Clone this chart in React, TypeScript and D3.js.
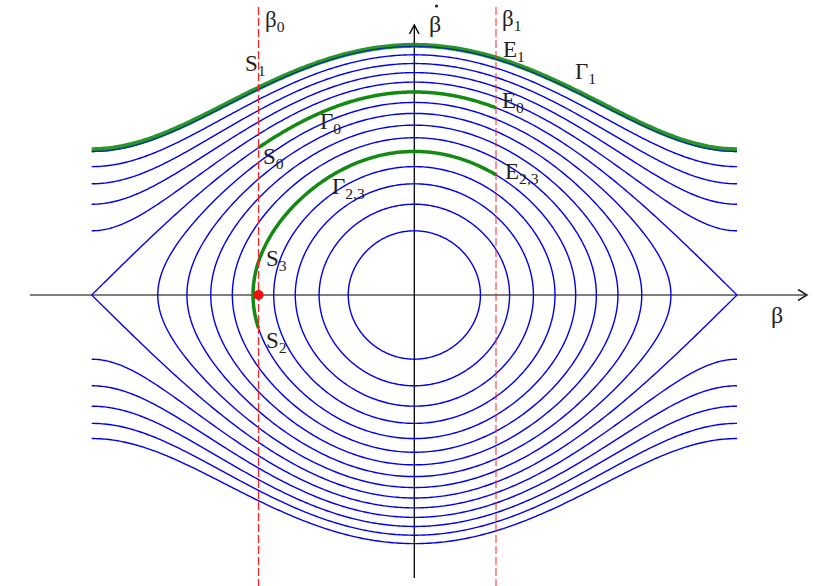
import React from "react";
import * as d3 from "d3";

// Energy levels H = βdot²/2 − cos β of the drawn contours
const levels = [-0.8, -0.6, -0.4, -0.2, 0, 0.2, 0.4, 0.6, 0.8, 1.0, 1.2, 1.4, 1.6, 1.8, 2.0];
// Dashed section lines
const beta0 = -1.517;
const beta1 = 0.795;
// Highlighted trajectories
const gamma1Level = 2.0;
const gamma0Level = 1.0;
const gamma23Level = 0.0;
// Red point (on β axis at β0)
const redPoint = [beta0, 0];

const W = 830, H = 586;
const PI = Math.PI;

const x = d3.scaleLinear().domain([-PI, PI]).range([91.7, 737]);
const y = d3.scaleLinear().domain([-2, 2]).range([498, 92]);

const vel = (E: number, b: number) => Math.sqrt(Math.max(0, 2 * (E + Math.cos(b))));
const line = d3.line<[number, number]>().x(d => x(d[0])).y(d => y(d[1])).curve(d3.curveLinear);

function closedOrbit(E: number): [number, number][] {
  const b0 = Math.acos(-E);
  const ts = d3.range(0, 201).map(i => (i / 200) * PI);
  const up: [number, number][] = ts.map(t => { const b = -b0 * Math.cos(t); return [b, vel(E, b)]; });
  const dn: [number, number][] = ts.map(t => { const b = b0 * Math.cos(t); return [b, -vel(E, b)]; });
  return [...up, ...dn];
}
function rotation(E: number, sign: number, a = -PI, b = PI): [number, number][] {
  return d3.range(0, 301).map(i => { const bb = a + (b - a) * i / 300; return [bb, sign * vel(E, bb)]; });
}
function gamma23(): [number, number][] {
  const bt = Math.acos(-gamma23Level);
  const tA = Math.acos(-beta1 / bt);
  const tB = Math.acos(-beta0 / bt);
  const up: [number, number][] = d3.range(0, 151).map(i => {
    const t = tA * (1 - i / 150); const b = -bt * Math.cos(t); return [b, vel(gamma23Level, b)];
  });
  const dn: [number, number][] = d3.range(1, 51).map(i => {
    const t = tB * i / 50; const b = -bt * Math.cos(t); return [b, -vel(gamma23Level, b)];
  });
  return [...up, ...dn];
}

const serif = "'Liberation Serif', 'Times New Roman', serif";

function Lbl({ x: lx, y: ly, main, sub, size = 23 }: { x: number; y: number; main: string; sub?: string; size?: number }) {
  return (
    <text x={lx} y={ly} fontFamily={serif} fontSize={size} fill="#222">
      {main}
      {sub !== undefined && <tspan fontSize={size * 0.68} dy={size * 0.2}>{sub}</tspan>}
    </text>
  );
}

export default function App() {
  const blue = "#0000ee";
  const green = "#138a13";
  return (
    <svg width={W} height={H} style={{ position: "absolute", left: 0, top: 0, background: "#fff" }}>
      {/* axes */}
      <line x1={30} y1={295} x2={806} y2={295} stroke="#555" strokeWidth={1.5} />
      <polyline points="798,289.5 807,295 798,300.5" fill="none" stroke="#222" strokeWidth={1.5} />
      <line x1={414.3} y1={578} x2={414.3} y2={26} stroke="#000" strokeWidth={1.3} />
      <polyline points="409.5,34 414.3,25 419,34" fill="none" stroke="#000" strokeWidth={1.4} />

      {/* contours */}
      <g fill="none" stroke={blue} strokeWidth={1.4}>
        {levels.map(E => E < 1
          ? <path key={E} d={line(closedOrbit(E)) + "Z"} />
          : <g key={E}>
              <path d={line(rotation(E, 1)) || ""} />
              <path d={line(rotation(E, -1)) || ""} />
            </g>)}
      </g>

      {/* highlighted trajectories */}
      <g fill="none" stroke={green} strokeLinecap="butt">
        <path d={line(rotation(gamma1Level + 0.025, 1)) || ""} strokeWidth={5} opacity={0.9} />
        <path d={line(rotation(gamma0Level, 1, beta0, beta1)) || ""} strokeWidth={3.5} />
        <path d={line(gamma23()) || ""} strokeWidth={3.5} />
      </g>
      <path d={line(rotation(gamma1Level, 1)) || ""} fill="none" stroke={blue} strokeWidth={1} opacity={0.7} />

      {/* dashed section lines */}
      <g stroke="#ff2222" strokeWidth={1.3} strokeDasharray="8,3">
        <line x1={x(beta0)} y1={7} x2={x(beta0)} y2={586} />
        <line x1={x(beta1)} y1={7} x2={x(beta1)} y2={586} opacity={0.75} />
      </g>
      <circle cx={x(redPoint[0])} cy={y(redPoint[1])} r={5} fill="#ee1111" />

      {/* labels */}
      <Lbl x={265} y={27} main="β" sub="0" />
      <Lbl x={502} y={26} main="β" sub="1" />
      <text x={429} y={32} fontFamily={serif} fontSize={24} fill="#222">β</text>
      <circle cx={436.5} cy={6} r={1.6} fill="#222" />
      <text x={771} y={323} fontFamily={serif} fontSize={24} fill="#222">β</text>

      <Lbl x={245} y={71} main="S" sub="1" />
      <Lbl x={503} y={57} main="E" sub="1" />
      <Lbl x={575} y={79} main="Γ" sub="1" />
      <Lbl x={320} y={129} main="Γ" sub="0" />
      <Lbl x={502} y={108} main="E" sub="0" />
      <Lbl x={263} y={164} main="S" sub="0" />
      <Lbl x={332} y={194} main="Γ" sub="2,3" />
      <Lbl x={505} y={179} main="E" sub="2,3" />
      <Lbl x={266} y={266} main="S" sub="3" />
      <Lbl x={266} y={348} main="S" sub="2" />
    </svg>
  );
}
